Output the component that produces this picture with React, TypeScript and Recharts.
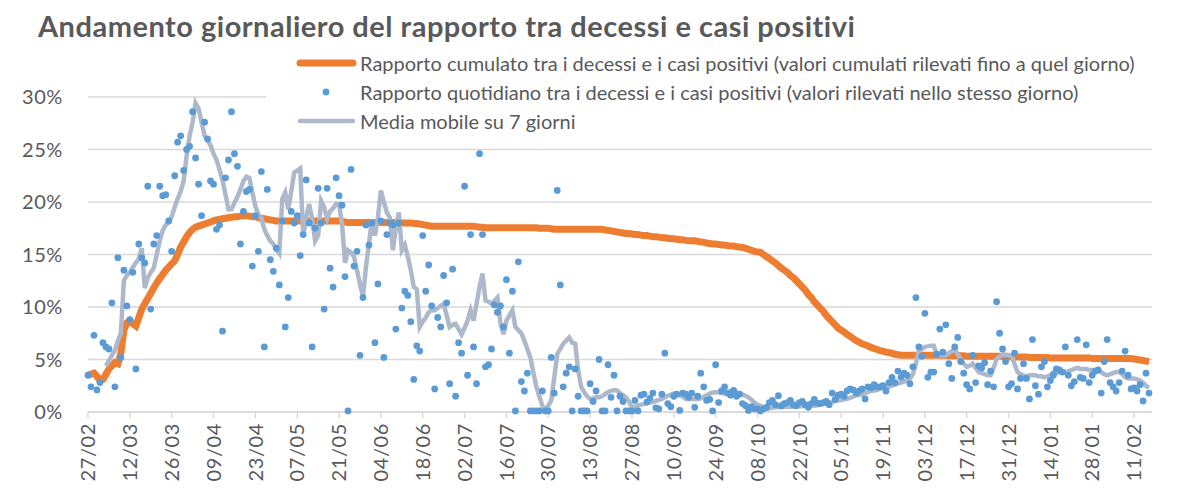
import { CartesianGrid, ComposedChart, Line, Scatter, XAxis, YAxis } from 'recharts';

const FONT = 'Lato, "Liberation Sans", sans-serif';
const TEXT = '#595959';
const GRID = '#D9D9D9';
const ORANGE = '#ED7D31';
const BLUE = '#5B9BD5';
const GREY = '#ADB9CA';

// giorni (indice dal 27/02) con etichetta sull'asse
const tickDays = [0, 14, 28, 42, 56, 70, 84, 98, 112, 126, 140, 154, 168, 182, 196, 210, 224, 238, 252, 266, 280, 294, 308, 322, 336, 350];
const tickLabels = [
  '27/02', '12/03', '26/03', '09/04', '23/04', '07/05', '21/05', '04/06', '18/06', '02/07', '16/07', '30/07', '13/08',
  '27/08', '10/09', '24/09', '08/10', '22/10', '05/11', '19/11', '03/12', '17/12', '31/12', '14/01', '28/01', '11/02',
];
const yTicks = [0, 5, 10, 15, 20, 25, 30];

// rapporto cumulato (%), un valore al giorno
const cumulative = [
  3.5, 3.6, 3.7, 3.4, 3.0, 3.1, 3.6, 4.1, 4.4, 4.7, 4.6, 5.6, 7.8, 8.5,
  8.7, 8.4, 8.2, 9.0, 9.8, 10.3, 10.8, 11.3, 11.8, 12.3, 12.7, 13.1, 13.5, 13.8,
  14.1, 14.4, 15.0, 15.7, 16.2, 16.7, 17.1, 17.4, 17.6, 17.7, 17.8, 17.9, 18.0, 18.1,
  18.2, 18.3, 18.35, 18.4, 18.45, 18.5, 18.55, 18.6, 18.6, 18.65, 18.7, 18.7, 18.65, 18.6,
  18.6, 18.5, 18.45, 18.4, 18.35, 18.3, 18.25, 18.2, 18.2, 18.2, 18.2, 18.2, 18.2, 18.2,
  18.2, 18.2, 18.2, 18.2, 18.2, 18.2, 18.2, 18.2, 18.2, 18.2, 18.2, 18.2, 18.2, 18.2,
  18.2, 18.15, 18.1, 18.05, 18.05, 18.05, 18.05, 18.05, 18.05, 18.05, 18.05, 18.05, 18.05, 18.05,
  18.05, 18.05, 18.05, 18.05, 18.05, 18.05, 18.0, 18.0, 18.0, 18.0, 18.0, 17.95, 17.95, 17.9,
  17.85, 17.8, 17.75, 17.7, 17.7, 17.7, 17.7, 17.7, 17.7, 17.7, 17.7, 17.7, 17.7, 17.7,
  17.7, 17.7, 17.7, 17.7, 17.65, 17.6, 17.6, 17.55, 17.55, 17.55, 17.55, 17.55, 17.55, 17.55,
  17.55, 17.55, 17.55, 17.55, 17.55, 17.55, 17.55, 17.55, 17.55, 17.55, 17.55, 17.5, 17.5, 17.5,
  17.5, 17.45, 17.4, 17.4, 17.4, 17.4, 17.4, 17.4, 17.4, 17.4, 17.4, 17.4, 17.4, 17.4,
  17.4, 17.4, 17.4, 17.4, 17.4, 17.35, 17.3, 17.25, 17.2, 17.15, 17.1, 17.05, 17.0, 17.0,
  16.95, 16.9, 16.9, 16.85, 16.8, 16.8, 16.75, 16.7, 16.7, 16.65, 16.6, 16.6, 16.55, 16.5,
  16.5, 16.45, 16.4, 16.4, 16.35, 16.3, 16.3, 16.3, 16.25, 16.2, 16.15, 16.1, 16.05, 16.0,
  16.0, 15.95, 15.9, 15.9, 15.85, 15.8, 15.8, 15.75, 15.7, 15.7, 15.6, 15.5, 15.4, 15.3,
  15.25, 15.2, 15.0, 14.8, 14.6, 14.4, 14.2, 13.95, 13.7, 13.5, 13.3, 13.0, 12.8, 12.5,
  12.2, 11.9, 11.6, 11.2, 10.9, 10.5, 10.2, 9.9, 9.6, 9.2, 8.9, 8.6, 8.3, 8.0,
  7.8, 7.6, 7.4, 7.2, 7.0, 6.8, 6.65, 6.5, 6.4, 6.3, 6.15, 6.05, 5.95, 5.85,
  5.8, 5.7, 5.65, 5.6, 5.5, 5.45, 5.4, 5.4, 5.4, 5.4, 5.4, 5.4, 5.4, 5.4,
  5.4, 5.4, 5.4, 5.4, 5.4, 5.4, 5.4, 5.4, 5.35, 5.35, 5.35, 5.35, 5.35, 5.35,
  5.3, 5.3, 5.3, 5.3, 5.3, 5.3, 5.3, 5.3, 5.3, 5.3, 5.3, 5.3, 5.3, 5.3,
  5.25, 5.25, 5.25, 5.25, 5.25, 5.25, 5.25, 5.2, 5.2, 5.2, 5.2, 5.2, 5.2, 5.2,
  5.15, 5.15, 5.15, 5.15, 5.15, 5.15, 5.15, 5.15, 5.15, 5.15, 5.15, 5.15, 5.15, 5.15,
  5.1, 5.1, 5.1, 5.1, 5.1, 5.1, 5.1, 5.1, 5.1, 5.1, 5.1, 5.1, 5.1, 5.1,
  5.05, 5.0, 4.95, 4.9, 4.85, 4.8,
];

// rapporto quotidiano (%)
const daily = [
  3.5, 2.4, 7.3, 2.1, 2.8, 6.6, 6.2, 6.0, 10.4, 2.4, 14.7, 5.2, 13.5, 10.1,
  8.8, 13.3, 4.1, 16.0, 14.7, 14.2, 21.5, 9.8, 16.0, 16.8, 21.5, 20.6, 20.7, 18.2,
  15.3, 22.5, 25.7, 26.3, 23.0, 25.0, 25.3, 28.6, 24.2, 21.7, 18.7, 27.6, 26.0, 22.0,
  21.7, 17.4, 17.8, 7.7, 22.3, 24.0, 28.6, 24.6, 23.4, 16.0, 19.1, 21.0, 21.2, 13.9,
  18.7, 15.3, 22.9, 6.2, 21.2, 14.5, 13.4, 15.6, 12.1, 18.2, 8.1, 10.9, 19.1, 18.0,
  18.7, 14.9, 16.9, 22.1, 18.0, 6.2, 17.5, 21.3, 18.0, 9.8, 21.3, 13.7, 11.9, 22.3,
  20.6, 19.7, 12.9, 0.1, 23.1, 13.9, 15.3, 5.4, 10.9, 17.8, 15.9, 18.0, 6.6, 12.2,
  18.2, 5.2, 16.9, 18.0, 17.8, 7.9, 18.0, 9.9, 11.5, 11.1, 8.6, 3.1, 6.3, 5.8,
  16.8, 11.5, 14.0, 10.1, 2.2, 9.0, 8.1, 13.0, 10.4, 2.7, 13.6, 1.5, 6.6, 5.6,
  21.5, 3.5, 16.9, 6.2, 2.7, 24.6, 16.9, 4.3, 4.5, 6.0, 10.2, 9.5, 10.1, 8.1,
  12.6, 5.6, 11.5, 0.1, 14.3, 2.9, 2.0, 3.7, 0.1, 0.1, 0.1, 0.1, 2.0, 0.1,
  0.1, 5.2, 1.8, 21.1, 12.1, 2.4, 3.7, 4.3, 0.1, 4.1, 1.5, 0.1, 0.1, 0.1,
  2.7, 1.0, 2.0, 5.0, 0.1, 0.1, 4.5, 1.4, 3.5, 0.1, 1.5, 1.0, 0.1, 0.1,
  0.1, 1.1, 0.1, 1.6, 1.7, 0.95, 1.3, 1.8, 0.4, 0.3, 1.7, 5.6, 0.8, 0.5,
  1.5, 1.7, 0.15, 1.8, 1.7, 1.4, 1.8, 0.45, 1.5, 3.7, 2.4, 1.1, 1.2, 0.1,
  4.5, 0.9, 2.0, 2.4, 1.8, 1.6, 2.05, 1.5, 1.7, 0.8, 0.6, 0.15, 0.5, 0.3,
  0.3, 0.1, 0.3, 0.45, 0.9, 1.1, 0.7, 1.55, 0.6, 0.8, 0.9, 1.1, 0.7, 0.6,
  0.9, 1.0, 0.7, 0.45, 0.8, 1.2, 0.85, 0.8, 0.9, 1.0, 0.7, 1.8, 1.2, 1.6,
  1.7, 1.5, 2.0, 2.2, 2.1, 1.8, 2.0, 2.2, 1.25, 2.4, 2.3, 2.6, 2.4, 2.4,
  2.5, 2.0, 2.8, 3.3, 2.8, 3.9, 3.3, 3.7, 3.5, 2.7, 4.3, 10.9, 6.2, 5.3,
  9.4, 3.3, 3.8, 3.8, 5.5, 7.9, 5.7, 8.3, 4.6, 3.2, 6.2, 7.1, 4.8, 3.7,
  2.6, 2.2, 5.4, 2.8, 4.4, 4.2, 4.7, 2.6, 3.9, 2.4, 10.5, 7.5, 6.0, 4.8,
  2.4, 2.7, 5.6, 2.2, 3.2, 4.6, 3.2, 1.25, 6.9, 2.5, 1.7, 4.3, 4.8, 2.4,
  3.0, 3.5, 4.1, 4.0, 3.8, 6.2, 3.5, 2.5, 2.9, 6.9, 3.3, 3.2, 6.4, 2.8,
  3.5, 3.9, 4.0, 1.8, 4.8, 6.9, 2.8, 2.4, 2.0, 2.8, 3.9, 5.8, 3.5, 2.2,
  2.3, 2.0, 2.6, 1.05, 3.7, 1.8,
];

// media mobile su 7 giorni (%), assente nei primi 6 giorni
const movingAvg = [
  null, null, null, null, null, null, 4.4, 4.9, 5.4, 5.85, 6.8, 7.5, 12.5, 13.0,
  13.3, 13.8, 14.2, 14.6, 15.6, 11.8, 12.8, 13.3, 13.7, 15.0, 16.3, 17.3, 17.8, 18.1,
  18.6, 19.5, 20.3, 21.0, 22.0, 24.4, 26.3, 27.6, 29.4, 28.9, 27.6, 26.3, 25.9, 25.4,
  24.6, 24.0, 23.1, 22.1, 20.7, 19.3, 19.3, 19.9, 20.5, 21.2, 22.0, 22.4, 22.3, 20.9,
  19.6, 18.8, 18.5, 17.4, 16.8, 16.3, 16.0, 15.5, 15.1, 20.3, 20.9, 19.3, 21.0, 22.8,
  23.0, 23.2, 16.8, 18.5, 19.8, 18.4, 16.3, 16.8, 20.1, 19.5, 18.4, 19.1, 19.4, 19.8,
  19.8, 17.9, 14.2, 15.4, 15.2, 14.8, 13.5, 12.2, 11.0, 13.8, 16.0, 18.3, 16.8, 18.5,
  21.1, 20.0, 19.0, 18.5, 15.4, 17.5, 19.0, 15.4, 15.9, 14.8, 13.5, 11.9, 11.7, 8.1,
  8.6, 9.0, 9.5, 9.7, 9.7, 9.9, 10.1, 10.3, 9.2, 8.1, 8.3, 8.4, 7.9, 7.4,
  8.0, 8.7, 9.7, 8.7, 10.3, 11.9, 13.2, 10.6, 10.5, 10.3, 10.6, 10.9, 8.5, 7.4,
  8.7, 9.2, 9.7, 8.1, 7.8, 7.5, 6.8, 6.0, 5.2, 3.8, 2.4, 1.5, 0.6, 0.15,
  0.6, 1.1, 3.3, 5.5, 6.0, 6.5, 6.8, 7.1, 6.6, 6.5, 4.0, 2.4, 1.9, 1.5,
  1.25, 1.3, 1.4, 1.4, 1.5, 1.7, 1.9, 2.0, 2.1, 2.05, 1.8, 1.6, 1.4, 1.0,
  0.45, 0.5, 0.6, 0.7, 0.75, 0.85, 0.9, 0.95, 1.05, 1.15, 1.25, 1.4, 1.55, 1.65,
  1.75, 1.7, 1.6, 1.45, 1.25, 1.25, 1.25, 1.25, 1.25, 1.3, 1.45, 1.6, 1.75, 1.85,
  1.9, 1.85, 1.8, 1.75, 1.9, 2.0, 2.05, 1.9, 1.75, 1.65, 1.55, 1.4, 1.15, 0.9,
  0.7, 0.6, 0.45, 0.3, 0.35, 0.4, 0.45, 0.45, 0.45, 0.5, 0.5, 0.5, 0.5, 0.5,
  0.55, 0.55, 0.55, 0.6, 0.6, 0.6, 0.65, 0.7, 0.75, 0.8, 0.9, 0.95, 1.05, 1.1,
  1.15, 1.2, 1.25, 1.35, 1.45, 1.6, 1.6, 1.7, 1.8, 1.9, 2.0, 2.05, 2.1, 2.2,
  2.3, 2.35, 2.4, 2.5, 2.6, 2.7, 2.8, 2.9, 3.0, 3.2, 3.6, 4.6, 5.85, 6.0,
  6.2, 6.25, 6.3, 6.3, 5.4, 5.4, 5.4, 5.4, 5.6, 5.8, 6.0, 5.5, 5.05, 4.6,
  4.3, 4.4, 4.6, 4.2, 3.8, 3.7, 3.6, 3.5, 3.5, 4.2, 5.05, 5.3, 5.45, 5.45,
  5.4, 5.4, 4.6, 3.8, 3.6, 3.5, 3.4, 3.5, 3.5, 3.5, 3.4, 3.4, 3.3, 3.4,
  3.5, 3.8, 3.7, 3.8, 3.8, 3.8, 3.9, 4.0, 4.1, 4.2, 4.1, 4.1, 4.1, 4.0,
  4.0, 4.0, 4.0, 3.8, 3.6, 3.5, 3.6, 3.7, 3.8, 3.8, 3.6, 3.3, 3.2, 3.2,
  3.2, 3.1, 3.0, 2.8, 2.5, 2.3,
];

const legendItems = [
  { key: 'cum', label: 'Rapporto cumulato tra i decessi e i casi positivi (valori cumulati rilevati fino a quel giorno)' },
  { key: 'day', label: 'Rapporto quotidiano tra i decessi e i casi positivi (valori rilevati nello stesso giorno)' },
  { key: 'avg', label: 'Media mobile su 7 giorni' },
];

const rows = daily.map((v, i) => ({
  day: i,
  cumulative: cumulative[i],
  daily: v,
  movingAvg: movingAvg[i],
}));

function DayTick(props: any) {
  const { x, y, payload } = props;
  const idx = tickDays.indexOf(payload.value);
  return (
    <g transform={`translate(${x},${y})`}>
      <text
        transform="rotate(-90)"
        x={-3}
        y={0}
        dy="0.36em"
        textAnchor="end"
        fill={TEXT}
        fontSize={20}
        letterSpacing={0.6}
        fontFamily={FONT}
      >
        {tickLabels[idx]}
      </text>
    </g>
  );
}

function Dot(props: any) {
  if (props.cx == null || props.cy == null) return null;
  return <circle cx={props.cx} cy={props.cy} r={3.4} fill={BLUE} />;
}

export default function App() {
  return (
    <div style={{ position: 'absolute', left: 0, top: 0, width: 1178, height: 498, background: '#fff', fontFamily: FONT }}>
      <ComposedChart width={1178} height={498} data={rows} margin={{ top: 97, right: 26, bottom: 16, left: 0 }}>
        <CartesianGrid vertical={false} stroke={GRID} strokeWidth={1.4} />
        <XAxis
          dataKey="day"
          type="number"
          domain={[0, 356]}
          ticks={tickDays}
          interval={0}
          height={70}
          tick={<DayTick />}
          tickSize={6}
          tickLine={{ stroke: GRID, strokeWidth: 1.4 }}
          axisLine={{ stroke: GRID, strokeWidth: 1.5 }}
        />
        <YAxis
          type="number"
          domain={[0, 30]}
          ticks={yTicks}
          width={88}
          axisLine={false}
          tickLine={false}
          tickSize={0}
          tickMargin={25}
          tick={{ fill: TEXT, fontSize: 20, fontFamily: FONT, letterSpacing: 0.6 }}
          tickFormatter={(v: number) => `${v}%`}
        />
        <Line dataKey="cumulative" type="linear" stroke={ORANGE} strokeWidth={7} dot={false} isAnimationActive={false} />
        <Scatter dataKey="daily" shape={<Dot />} isAnimationActive={false} />
        <Line dataKey="movingAvg" type="linear" stroke={GREY} strokeWidth={4.5} dot={false} isAnimationActive={false} />
      </ComposedChart>

      <svg width={1178} height={498} style={{ position: 'absolute', left: 0, top: 0, pointerEvents: 'none' }}>
        <text x={38} y={37} fontSize={29} fontWeight={700} letterSpacing={0.5} fill={TEXT} fontFamily={FONT}>
          Andamento giornaliero del rapporto tra decessi e casi positivi
        </text>
        <rect x={266} y={46} width={900} height={94} fill="#fff" />
        {legendItems.map((it, i) => {
          const cy = 63 + i * 29;
          return (
            <g key={it.key}>
              {it.key === 'cum' && <line x1={300} x2={353} y1={cy} y2={cy} stroke={ORANGE} strokeWidth={7} strokeLinecap="round" />}
              {it.key === 'day' && <circle cx={326} cy={cy} r={3.4} fill={BLUE} />}
              {it.key === 'avg' && <line x1={300} x2={353} y1={cy} y2={cy} stroke={GREY} strokeWidth={4.5} strokeLinecap="round" />}
              <text x={360} y={cy} dominantBaseline="central" fontSize={20} fill={TEXT} fontFamily={FONT}>
                {it.label}
              </text>
            </g>
          );
        })}
      </svg>
    </div>
  );
}
